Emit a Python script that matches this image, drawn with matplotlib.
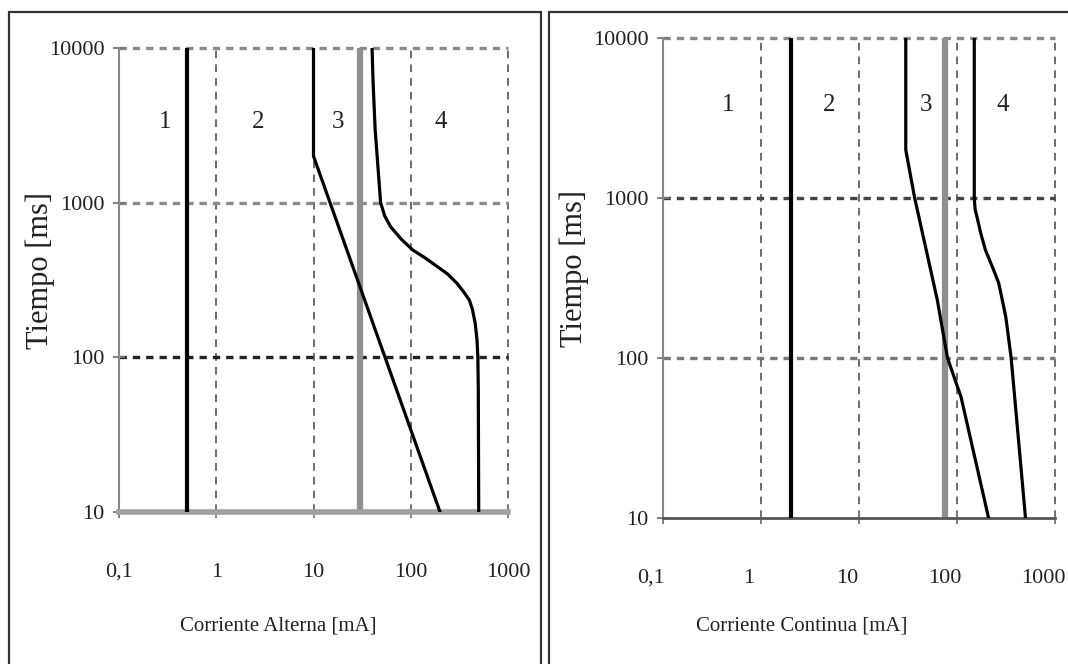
import matplotlib
matplotlib.use('Agg')
import matplotlib.pyplot as plt
from matplotlib.patches import Rectangle
from matplotlib.transforms import ScaledTranslation

plt.rcParams['font.family'] = ['Liberation Serif', 'DejaVu Serif']

# corriente alterna (mA / ms)
ac_a = 0.5
ac_b_x = [10, 10, 200]
ac_b_t = [10000, 2000, 10]
ac_c2 = 30
ac_c1_x = [40, 41, 43, 46, 49, 54, 62, 80, 105, 140, 190, 240, 300, 350, 400, 430, 460, 480, 490, 495, 500]
ac_c1_t = [10000, 6000, 3000, 1700, 1000, 820, 700, 580, 494, 440, 384, 345, 300, 265, 235, 205, 166, 130, 100, 60, 10]

# corriente continua
dc_a = 2
dc_b_x = [30, 30, 37, 63, 80, 110, 210]
dc_b_t = [10000, 2000, 1000, 230, 100, 57, 10]
dc_c2 = 75
dc_c1_x = [150, 150, 153, 160, 175, 195, 230, 266, 290, 315, 357, 500]
dc_c1_t = [10000, 1000, 850, 760, 600, 473, 370, 295, 230, 180, 100, 10]

x_ticks = [0.1, 1, 10, 100, 1000]
x_labels = ['0,1', '1', '10', '100', '1000']
y_ticks = [10, 100, 1000, 10000]
y_labels = ['10', '100', '1000', '10000']
zonas = ['1', '2', '3', '4']

fig = plt.figure(figsize=(10.68, 6.64), dpi=100)

# marcos de las dos imagenes
fig.patches.append(Rectangle((9/1068, -0.1), 532/1068, 1.1 - 12/664, transform=fig.transFigure,
                             fill=False, edgecolor='#333333', lw=1.6))
fig.patches.append(Rectangle((549/1068, -0.1), 0.6, 1.1 - 12/664, transform=fig.transFigure,
                             fill=False, edgecolor='#333333', lw=1.6))


def panel(rect, a, bx, bt, c2, c1x, c1t, hcols, bottom_style, xlabel, zona_x, zona_t,
          xlab_pos, ylab_x, xoff):
    ax = fig.add_axes(rect)
    ax.set_xscale('log')
    ax.set_yscale('log')
    ax.set_xlim(0.1, 1000)
    ax.set_ylim(10, 10000)

    # rejilla (hcols: 100, 1000, 10000)
    for xv in x_ticks[1:]:
        ax.axvline(xv, color='#444444', lw=1.1, dashes=(5, 4), clip_on=False, zorder=1)
    for yv, c in zip(y_ticks[1:], hcols):
        ax.axhline(yv, color=c, lw=2.4, dashes=(2.2, 1.8), clip_on=False, zorder=1)

    for s in ['top', 'right']:
        ax.spines[s].set_visible(False)
    ax.spines['left'].set_color('#888888')
    ax.spines['left'].set_linewidth(1.5)
    ax.spines['bottom'].set_color(bottom_style[0])
    ax.spines['bottom'].set_linewidth(bottom_style[1])

    ax.axvline(c2, color='#8f8f8f', lw=4.5, zorder=2)
    ax.plot([a, a], [10, 10000], color='black', lw=3, zorder=3)
    ax.plot(bx, bt, color='black', lw=2.3, zorder=3, solid_joinstyle='round')
    ax.plot(c1x, c1t, color='black', lw=2.3, zorder=3, solid_joinstyle='round')

    ax.set_xticks(x_ticks)
    ax.set_xticklabels(x_labels)
    ax.set_yticks(y_ticks)
    ax.set_yticklabels(y_labels)
    ax.minorticks_off()
    ax.tick_params(axis='x', direction='inout', length=9, width=1.3, color='#777777',
                   labelsize=16, pad=32, labelcolor='#222222')
    ax.tick_params(axis='y', direction='inout', length=9, width=1.3, color='#777777',
                   labelsize=16, pad=6, labelcolor='#222222')
    for lab in ax.get_xticklabels():
        lab.set_transform(lab.get_transform() + ScaledTranslation(xoff / 100, 0, fig.dpi_scale_trans))

    ax.set_xlabel(xlabel, fontsize=15, color='#222222')
    ax.xaxis.set_label_coords(xlab_pos[0], xlab_pos[1])
    ax.set_ylabel('Tiempo [ms]', fontsize=22, color='#222222')
    ax.yaxis.set_label_coords(ylab_x, 0.52)

    for z, zx in zip(zonas, zona_x):
        ax.text(zx, zona_t, z, fontsize=18, color='#222222', ha='center', va='center')
    return ax


panel([119/1068, 1 - 512/664, 389/1068, 464/664], ac_a, ac_b_x, ac_b_t, ac_c2, ac_c1_x, ac_c1_t,
      ['#222222', '#8a8a8a', '#8a8a8a'], ('#a0a0a0', 4), 'Corriente Alterna [mA]',
      [0.3, 2.7, 18, 205], 3300, (0.41, -0.225), -0.165, 0)

panel([663/1068, 1 - 518/664, 392/1068, 480/664], dc_a, dc_b_x, dc_b_t, dc_c2, dc_c1_x, dc_c1_t,
      ['#777777', '#444444', '#8a8a8a'], ('#555555', 2), 'Corriente Continua [mA]',
      [0.46, 4.9, 48, 295], 3800, (0.355, -0.205), -0.19, -12)

fig.savefig('out.png', dpi=100)
